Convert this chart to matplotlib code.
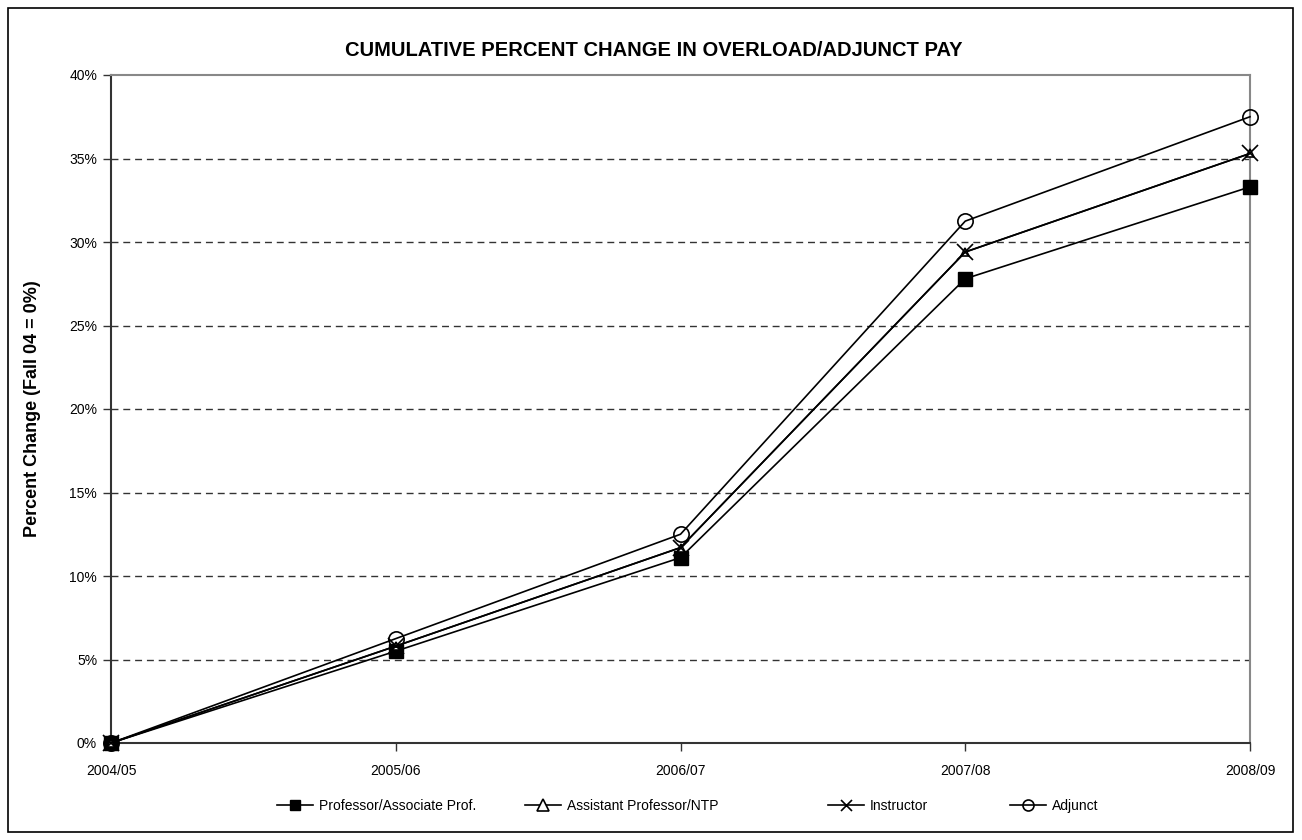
import matplotlib
matplotlib.use('Agg')
import matplotlib.pyplot as plt
from matplotlib.patches import Rectangle
from matplotlib.ticker import PercentFormatter

plt.rcParams['font.family'] = ['Liberation Sans', 'DejaVu Sans']

years = ['2004/05', '2005/06', '2006/07', '2007/08', '2008/09']
professor = [0, 5.5, 11.1, 27.8, 33.3]
assistant = [0, 5.8, 11.7, 29.4, 35.3]
instructor = [0, 5.8, 11.7, 29.4, 35.3]
adjunct = [0, 6.25, 12.5, 31.25, 37.5]

fig = plt.figure(figsize=(13.02, 8.4), dpi=100)
ax = fig.add_axes([111 / 1302, 97 / 840, 1139 / 1302, 668 / 840])

# outer frame of the chart
fig.patches.append(Rectangle((8 / 1302, 8 / 840), 1285 / 1302, 824 / 840,
                             transform=fig.transFigure, fill=False,
                             edgecolor='black', linewidth=1.2))

x = range(len(years))
l1, = ax.plot(x, professor, color='black', lw=1.2, marker='s', ms=10.5,
              mfc='black', mec='black', clip_on=False, zorder=3,
              label='Professor/Associate Prof.')
l2, = ax.plot(x, assistant, color='black', lw=1.2, marker='^', ms=6,
              mfc='white', mec='black', mew=1.2, clip_on=False, zorder=3,
              label='Assistant Professor/NTP')
l3, = ax.plot(x, instructor, color='black', lw=1.2, marker='x', ms=11,
              mec='black', mew=1.2, clip_on=False, zorder=4, label='Instructor')
l4, = ax.plot(x, adjunct, color='black', lw=1.2, marker='o', ms=11,
              mfc='none', mec='black', mew=1.2, clip_on=False, zorder=4,
              label='Adjunct')

ax.set_xlim(0, 4)
ax.set_ylim(0, 40)
ax.set_xticks(list(x))
ax.set_xticklabels(years)
ax.set_yticks(range(0, 41, 5))
ax.yaxis.set_major_formatter(PercentFormatter(decimals=0))
ax.tick_params(axis='both', direction='out', length=6, width=1,
               labelsize=10, color='#333333')
ax.tick_params(axis='x', pad=9)
ax.tick_params(axis='y', pad=4)

for y in range(5, 40, 5):
    ax.axhline(y, color='#333333', lw=1, ls=(0, (5, 3.5)), zorder=0)

ax.spines['left'].set_color('#333333')
ax.spines['bottom'].set_color('#333333')
ax.spines['left'].set_linewidth(1.5)
ax.spines['bottom'].set_linewidth(1.5)
ax.spines['top'].set_color('#888888')
ax.spines['right'].set_color('#888888')
ax.spines['top'].set_linewidth(1.5)
ax.spines['right'].set_linewidth(1.5)

ax.set_ylabel('Percent Change (Fall 04 = 0%)', fontsize=13, fontweight='bold',
              labelpad=20)
fig.text(654 / 1302, 1 - 50 / 840,
         'CUMULATIVE PERCENT CHANGE IN OVERLOAD/ADJUNCT PAY',
         ha='center', va='center', fontsize=14.5, fontweight='bold')

# legend entries placed one by one, like the spacing in the original
leg_x = [277, 525, 828, 1010]
leg_scale = [0.72, 1.35, 0.72, 0.72]
for h, lx, sc in zip([l1, l2, l3, l4], leg_x, leg_scale):
    lg = fig.legend(handles=[h], loc='center left',
                    bbox_to_anchor=(lx / 1302, 1 - 806 / 840),
                    frameon=False, fontsize=10, handlelength=2.6,
                    handletextpad=0.4, borderaxespad=0, borderpad=0,
                    markerscale=sc)

fig.savefig('out.png', dpi=100)
